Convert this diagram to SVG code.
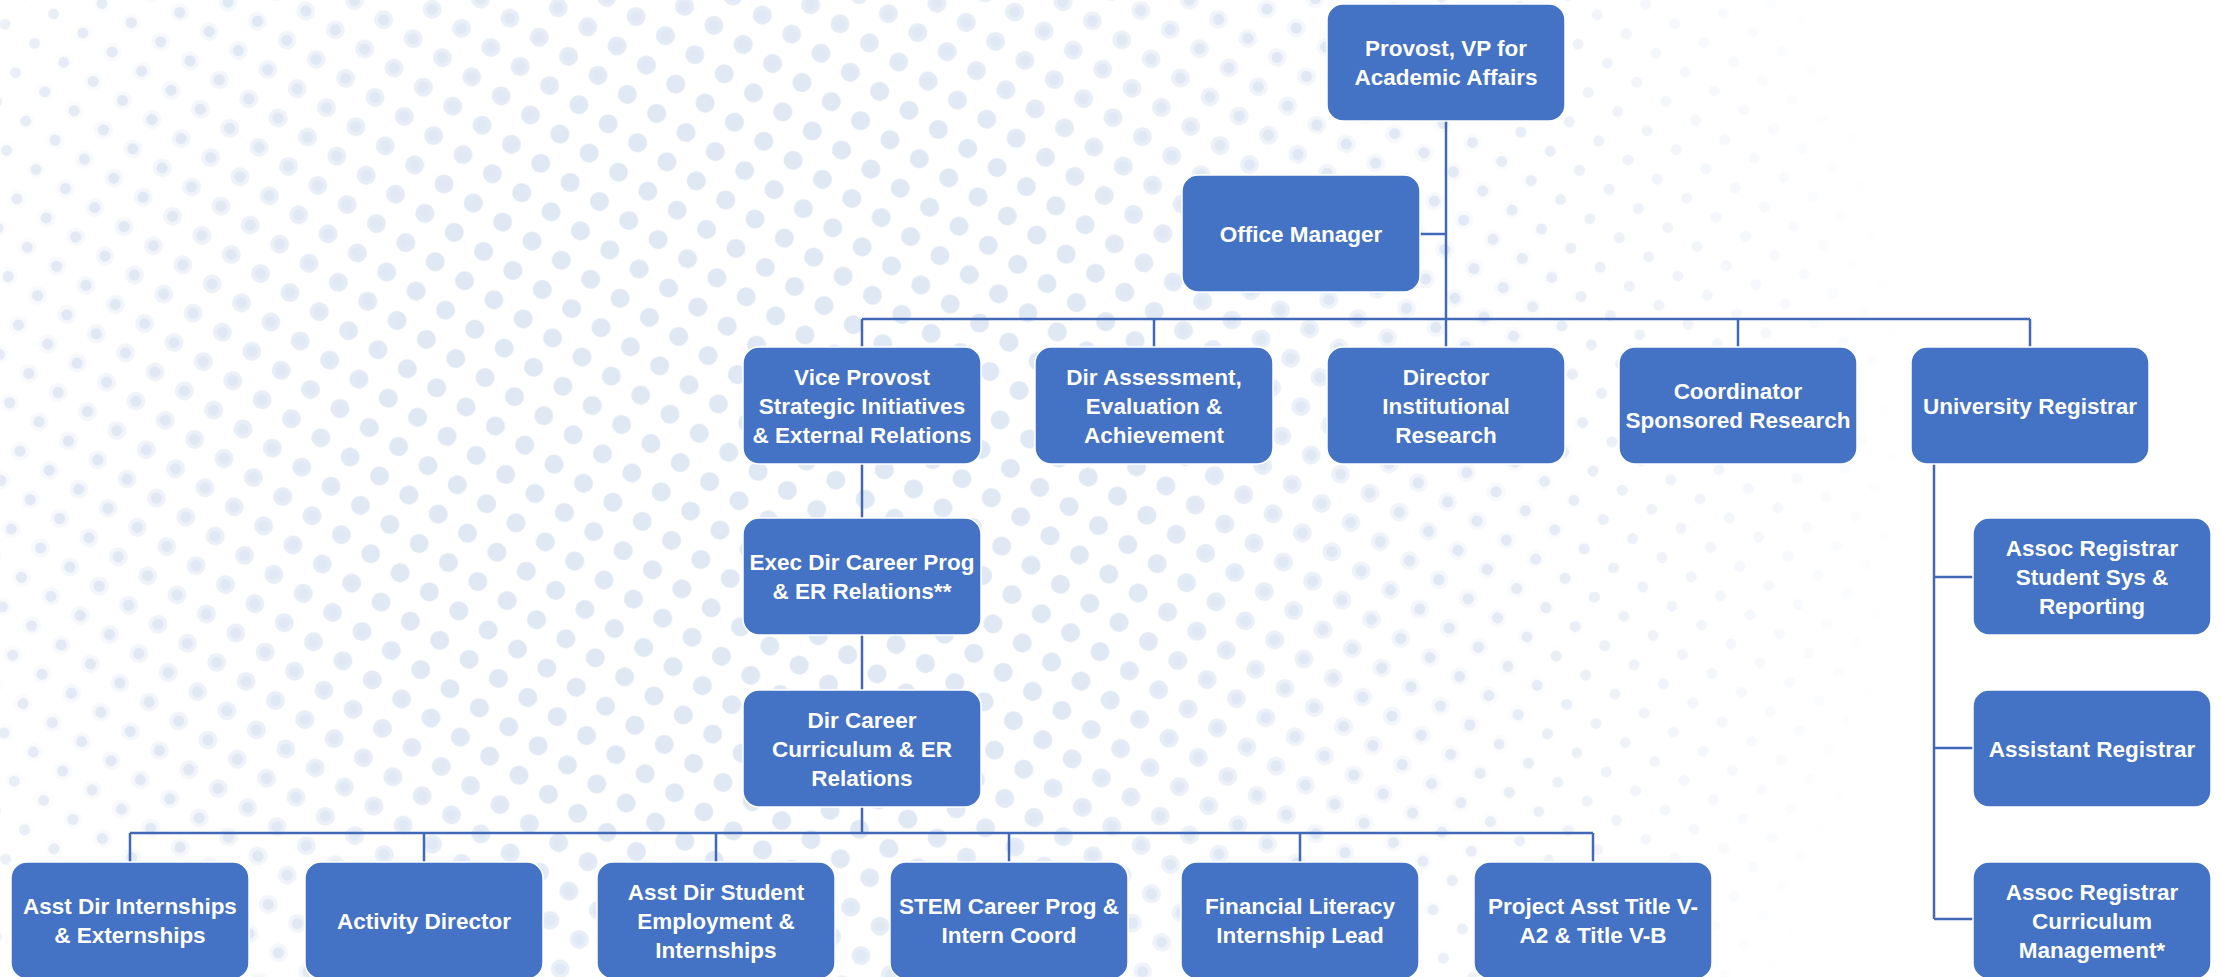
<svg xmlns="http://www.w3.org/2000/svg" width="2221" height="977" viewBox="0 0 2221 977">
<style>
.box{fill:#4472C4;stroke:#ffffff;stroke-width:1.5}
.lbl{fill:#ffffff;font-family:"Liberation Sans",Arial,sans-serif;font-weight:bold;font-size:22.5px;text-anchor:middle}
.conn{fill:none;stroke:#4169b8;stroke-width:2.5}
</style>
<defs>
<pattern id="dotsBig" width="35" height="35" patternUnits="userSpaceOnUse" patternTransform="rotate(33)">
<circle cx="17.5" cy="17.5" r="9.5" fill="#e0e8f4"/>
</pattern>
<pattern id="dotsSmall" width="35" height="35" patternUnits="userSpaceOnUse" patternTransform="rotate(33)">
<circle cx="17.5" cy="17.5" r="5.5" fill="#e0e8f4"/>
</pattern>
<radialGradient id="gBig" gradientUnits="userSpaceOnUse" cx="760" cy="470" r="850">
<stop offset="0" stop-color="#fff"/>
<stop offset="0.45" stop-color="#fff"/>
<stop offset="1" stop-color="#000"/>
</radialGradient>
<radialGradient id="gSmall" gradientUnits="userSpaceOnUse" cx="760" cy="450" r="1150">
<stop offset="0" stop-color="#fff"/>
<stop offset="0.6" stop-color="#fff"/>
<stop offset="1" stop-color="#000"/>
</radialGradient>
<mask id="mBig"><rect width="2221" height="977" fill="url(#gBig)"/></mask>
<mask id="mSmall"><rect width="2221" height="977" fill="url(#gSmall)"/></mask>
</defs>
<rect width="2221" height="977" fill="#ffffff"/>
<g id="background">
<rect width="2221" height="977" fill="url(#dotsSmall)" mask="url(#mSmall)"/>
<rect width="2221" height="977" fill="url(#dotsBig)" mask="url(#mBig)"/>
</g>
<g id="connectors">
<path class="conn" d="M1446 121V347"/>
<path class="conn" d="M1420 234H1446"/>
<path class="conn" d="M862 319H2030"/>
<path class="conn" d="M862 319V347M1154 319V347M1738 319V347M2030 319V347"/>
<path class="conn" d="M862 464V518M862 635V690M862 807V833"/>
<path class="conn" d="M130 833H1593"/>
<path class="conn" d="M130 833V862M424 833V862M716 833V862M1009 833V862M1300 833V862M1593 833V862"/>
<path class="conn" d="M1934 464V919M1934 577H1973M1934 748H1973M1934 919H1973"/>
</g>
<g id="provost"><rect class="box" x="1327" y="4" width="238" height="117" rx="16"/>
<text class="lbl"><tspan x="1446" y="56">Provost, VP for</tspan><tspan x="1446" y="85">Academic Affairs</tspan></text></g>
<g id="office-manager"><rect class="box" x="1182" y="175" width="238" height="117" rx="16"/>
<text class="lbl" x="1301" y="241.5">Office Manager</text></g>
<g id="vice-provost"><rect class="box" x="743" y="347" width="238" height="117" rx="16"/>
<text class="lbl"><tspan x="862" y="384.5">Vice Provost</tspan><tspan x="862" y="413.5">Strategic Initiatives</tspan><tspan x="862" y="442.5">&amp; External Relations</tspan></text></g>
<g id="dir-assessment"><rect class="box" x="1035" y="347" width="238" height="117" rx="16"/>
<text class="lbl"><tspan x="1154" y="384.5">Dir Assessment,</tspan><tspan x="1154" y="413.5">Evaluation &amp;</tspan><tspan x="1154" y="442.5">Achievement</tspan></text></g>
<g id="director-ir"><rect class="box" x="1327" y="347" width="238" height="117" rx="16"/>
<text class="lbl"><tspan x="1446" y="384.5">Director</tspan><tspan x="1446" y="413.5">Institutional</tspan><tspan x="1446" y="442.5">Research</tspan></text></g>
<g id="coordinator"><rect class="box" x="1619" y="347" width="238" height="117" rx="16"/>
<text class="lbl"><tspan x="1738" y="399">Coordinator</tspan><tspan x="1738" y="428">Sponsored Research</tspan></text></g>
<g id="registrar"><rect class="box" x="1911" y="347" width="238" height="117" rx="16"/>
<text class="lbl" x="2030" y="413.5">University Registrar</text></g>
<g id="exec-dir"><rect class="box" x="743" y="518" width="238" height="117" rx="16"/>
<text class="lbl"><tspan x="862" y="570">Exec Dir Career Prog</tspan><tspan x="862" y="599">&amp; ER Relations**</tspan></text></g>
<g id="dir-career"><rect class="box" x="743" y="690" width="238" height="117" rx="16"/>
<text class="lbl"><tspan x="862" y="727.5">Dir Career</tspan><tspan x="862" y="756.5">Curriculum &amp; ER</tspan><tspan x="862" y="785.5">Relations</tspan></text></g>
<g id="asst-dir-internships"><rect class="box" x="11" y="862" width="238" height="117" rx="16"/>
<text class="lbl"><tspan x="130" y="914">Asst Dir Internships</tspan><tspan x="130" y="943">&amp; Externships</tspan></text></g>
<g id="activity-director"><rect class="box" x="305" y="862" width="238" height="117" rx="16"/>
<text class="lbl" x="424" y="928.5">Activity Director</text></g>
<g id="asst-dir-student"><rect class="box" x="597" y="862" width="238" height="117" rx="16"/>
<text class="lbl"><tspan x="716" y="899.5">Asst Dir Student</tspan><tspan x="716" y="928.5">Employment &amp;</tspan><tspan x="716" y="957.5">Internships</tspan></text></g>
<g id="stem-career"><rect class="box" x="890" y="862" width="238" height="117" rx="16"/>
<text class="lbl"><tspan x="1009" y="914">STEM Career Prog &amp;</tspan><tspan x="1009" y="943">Intern Coord</tspan></text></g>
<g id="financial-literacy"><rect class="box" x="1181" y="862" width="238" height="117" rx="16"/>
<text class="lbl"><tspan x="1300" y="914">Financial Literacy</tspan><tspan x="1300" y="943">Internship Lead</tspan></text></g>
<g id="project-asst"><rect class="box" x="1474" y="862" width="238" height="117" rx="16"/>
<text class="lbl"><tspan x="1593" y="914">Project Asst Title V-</tspan><tspan x="1593" y="943">A2 &amp; Title V-B</tspan></text></g>
<g id="assoc-registrar-student"><rect class="box" x="1973" y="518" width="238" height="117" rx="16"/>
<text class="lbl"><tspan x="2092" y="555.5">Assoc Registrar</tspan><tspan x="2092" y="584.5">Student Sys &amp;</tspan><tspan x="2092" y="613.5">Reporting</tspan></text></g>
<g id="assistant-registrar"><rect class="box" x="1973" y="690" width="238" height="117" rx="16"/>
<text class="lbl" x="2092" y="756.5">Assistant Registrar</text></g>
<g id="assoc-registrar-curriculum"><rect class="box" x="1973" y="862" width="238" height="117" rx="16"/>
<text class="lbl"><tspan x="2092" y="899.5">Assoc Registrar</tspan><tspan x="2092" y="928.5">Curriculum</tspan><tspan x="2092" y="957.5">Management*</tspan></text></g>
</svg>
